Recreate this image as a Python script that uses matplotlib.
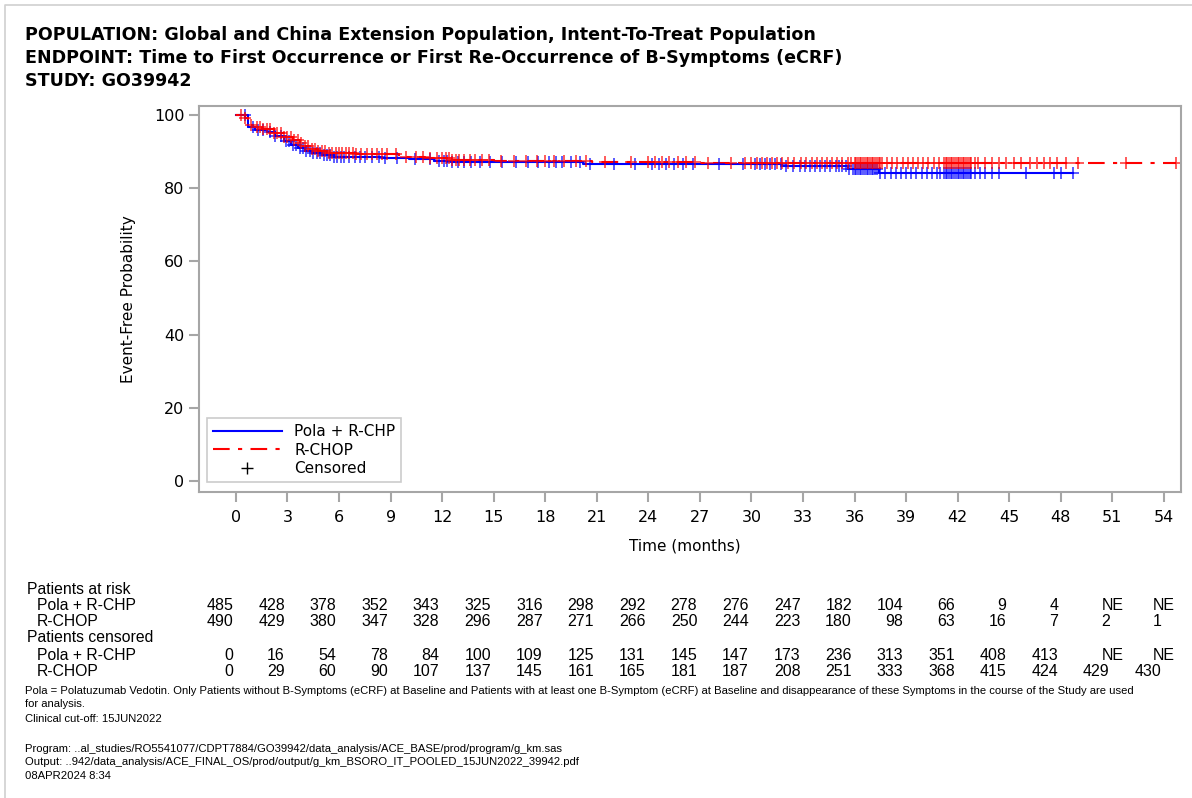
import numpy as np
import matplotlib
matplotlib.use("Agg")
from matplotlib import pyplot as plt
from matplotlib.lines import Line2D
from matplotlib import transforms

# Kaplan-Meier steps (months, % event-free)
pola_t = [0, 0.7, 1.1, 1.8, 2.3, 2.8, 3.2, 3.6, 4.0, 4.4, 5.0, 5.7, 8.5, 10.1, 11.5,
          12.5, 16.0, 20.2, 31.8, 35.6, 37.4, 48.7]
pola_s = [100, 96.7, 96.0, 95.4, 94.3, 92.8, 91.8, 91.0, 90.3, 89.6, 89.0, 88.5, 88.3,
          88.0, 87.6, 87.2, 87.1, 86.6, 86.0, 85.3, 84.1, 84.1]

rchop_t = [0, 0.5, 0.7, 1.0, 1.5, 2.2, 2.8, 3.3, 3.7, 4.0, 4.3, 4.8, 5.3, 7.0, 9.5,
           11.0, 12.5, 15.0, 17.3, 20.7, 27.0, 54.7]
rchop_s = [100, 99.2, 97.3, 96.8, 96.2, 95.2, 94.1, 93.2, 92.3, 91.5, 90.7, 90.1, 89.7,
           89.3, 88.6, 88.2, 87.7, 87.5, 87.4, 87.2, 87.0, 87.0]

# censoring times (months)
pola_cens = [0.5, 1.0, 1.3, 1.6, 2.0, 2.3, 2.6, 2.9,
             3.1, 3.3, 3.5, 3.7, 3.9, 4.1, 4.3, 4.5, 4.7, 4.9, 5.1, 5.3, 5.5, 5.7, 5.9,
             6.1, 6.3, 6.6, 6.9, 7.2, 7.5, 7.9, 8.3, 8.7,
             9.4, 10.4, 11.3, 11.8,
             12.1, 12.3, 12.6, 12.9, 13.3, 13.7, 14.2, 14.8,
             15.5, 16.3, 17.0, 17.6,
             18.2, 18.6, 19.0, 19.5, 20.0, 20.6,
             22.0, 23.2,
             24.2, 24.6, 25.0, 25.5, 26.0, 26.6,
             28.1, 29.5,
             30.2, 30.5, 30.8, 31.1, 31.4, 31.7, 32.0, 32.4, 32.8,
             33.1, 33.4, 33.7, 34.0, 34.3, 34.6, 34.9, 35.1, 35.3, 35.5, 35.7, 35.9,
             36.0, 36.1, 36.2, 36.3, 36.4, 36.5, 36.6, 36.7, 36.8, 36.9, 37.0, 37.1,
             37.2, 37.3, 37.5, 37.8, 38.1, 38.4, 38.7,
             39.0, 39.3, 39.6, 39.9, 40.2, 40.5, 40.8, 41.0, 41.2, 41.3, 41.4, 41.5,
             41.6, 41.7, 41.8, 41.9,
             42.0, 42.1, 42.2, 42.3, 42.4, 42.5, 42.6, 42.7, 42.8, 43.0, 43.3, 43.6,
             44.0, 44.4,
             46.0, 47.6, 48.0, 48.7]

rchop_cens = [0.3, 0.5, 0.9, 1.2, 1.4, 1.6, 1.8, 2.0, 2.2, 2.4, 2.6, 2.8,
              3.0, 3.2, 3.4, 3.6, 3.8, 4.0, 4.2, 4.4, 4.6, 4.8, 5.0, 5.2, 5.4, 5.6, 5.8,
              6.0, 6.2, 6.4, 6.6, 6.8, 7.0, 7.3, 7.6, 7.9, 8.2, 8.5, 8.8,
              9.3, 9.9, 10.5, 10.9, 11.3, 11.7,
              12.0, 12.2, 12.4, 12.6, 12.8, 13.0, 13.3, 13.6, 13.9, 14.3, 14.7,
              15.4, 16.2, 16.9, 17.5,
              18.0, 18.5, 19.1, 19.8, 20.4,
              21.5, 23.0,
              24.0, 24.4, 24.8, 25.2, 25.7, 26.2, 26.7,
              27.5, 28.8, 29.6,
              30.0, 30.3, 30.6, 30.9, 31.2, 31.5, 31.8, 32.1, 32.5, 32.9,
              33.2, 33.5, 33.8, 34.1, 34.4, 34.7, 35.0, 35.3, 35.6, 35.8,
              36.0, 36.1, 36.2, 36.3, 36.4, 36.5, 36.6, 36.7, 36.8, 36.9, 37.0, 37.1,
              37.2, 37.3, 37.4, 37.5, 37.6, 37.9, 38.2, 38.5, 38.8,
              39.1, 39.4, 39.7, 40.0, 40.3, 40.6, 40.9, 41.2, 41.3, 41.4, 41.5, 41.6,
              41.7, 41.8, 41.9,
              42.0, 42.1, 42.2, 42.3, 42.4, 42.5, 42.6, 42.7, 42.8, 43.0, 43.2, 43.6,
              44.0, 44.4, 44.8,
              45.3, 45.7, 46.2, 46.6, 47.0, 47.4, 47.8,
              48.3, 49.0, 51.8, 54.7]

# risk table
table_times = [0, 3, 6, 9, 12, 15, 18, 21, 24, 27, 30, 33, 36, 39, 42, 45, 48, 51, 54]
risk_pola = ["485", "428", "378", "352", "343", "325", "316", "298", "292", "278", "276",
             "247", "182", "104", "66", "9", "4", "NE", "NE"]
risk_rchop = ["490", "429", "380", "347", "328", "296", "287", "271", "266", "250", "244",
              "223", "180", "98", "63", "16", "7", "2", "1"]
cens_pola = ["0", "16", "54", "78", "84", "100", "109", "125", "131", "145", "147",
             "173", "236", "313", "351", "408", "413", "NE", "NE"]
cens_rchop = ["0", "29", "60", "90", "107", "137", "145", "161", "165", "181", "187",
              "208", "251", "333", "368", "415", "424", "429", "430"]

title_lines = ["POPULATION: Global and China Extension Population, Intent-To-Treat Population",
               "ENDPOINT: Time to First Occurrence or First Re-Occurrence of B-Symptoms (eCRF)",
               "STUDY: GO39942"]
foot_lines = [
    (691, "Pola = Polatuzumab Vedotin. Only Patients without B-Symptoms (eCRF) at Baseline and "
          "Patients with at least one B-Symptom (eCRF) at Baseline and disappearance of these "
          "Symptoms in the course of the Study are used"),
    (704, "for analysis."),
    (719, "Clinical cut-off: 15JUN2022"),
    (749, "Program: ..al_studies/RO5541077/CDPT7884/GO39942/data_analysis/ACE_BASE/prod/program/g_km.sas"),
    (762, "Output: ..942/data_analysis/ACE_FINAL_OS/prod/output/g_km_BSORO_IT_POOLED_15JUN2022_39942.pdf"),
    (776, "08APR2024 8:34"),
]

W, H = 1192, 798
BLUE = "#0000ff"
RED = "#ff0000"
GREY = "#a6a6a6"
FOOT = ["Liberation Sans", "DejaVu Sans"]
TBL = ["Liberation Sans", "DejaVu Sans"]


def px(x, y):
    return x / W, 1 - y / H


def step_value(t, s, x):
    idx = np.searchsorted(np.asarray(t), x, side="right") - 1
    return np.asarray(s)[idx]


fig = plt.figure(figsize=(W / 100, H / 100), dpi=100)
ax = fig.add_axes([199 / W, 1 - 492 / H, (1181 - 199) / W, (492 - 106) / H])

ax.step(pola_t, pola_s, where="post", color=BLUE, lw=1.5)
ax.step(rchop_t, rchop_s, where="post", color=RED, lw=1.5, ls=(0, (8, 4, 2, 4)))
ax.plot(pola_cens, step_value(pola_t, pola_s, pola_cens), ls="none", marker="+",
        ms=8, mew=1.2, color=BLUE, alpha=0.75)
ax.plot(rchop_cens, step_value(rchop_t, rchop_s, rchop_cens), ls="none", marker="+",
        ms=8, mew=1.2, color=RED, alpha=0.75)

ax.set_xlim(-2.15, 55.0)
ax.set_ylim(-3.0, 102.5)
ax.set_xticks(table_times)
ax.set_yticks([0, 20, 40, 60, 80, 100])
for s in ax.spines.values():
    s.set_color(GREY)
    s.set_linewidth(1.5)
ax.tick_params(colors=GREY, labelcolor="black", length=7, width=1.5, labelsize=11.5)
ax.tick_params(axis="x", pad=6)
ax.set_xlabel("Time (months)", fontsize=11)
ax.xaxis.set_label_coords(0.495, -0.12)
ax.set_ylabel("Event-Free Probability", fontsize=11)
ax.yaxis.set_label_coords(-0.064, 0.5)

handles = [Line2D([], [], color=BLUE, lw=1.5),
           Line2D([], [], color=RED, lw=1.5, ls=(0, (8, 4, 2, 4))),
           Line2D([], [], color="black", ls="none", marker="+", ms=9, mew=1)]
leg = ax.legend(handles, ["Pola + R-CHP", "R-CHOP", "Censored"], loc="lower left",
                bbox_to_anchor=(8 / 982, 10 / 386), borderaxespad=0, fontsize=11,
                handlelength=4.5, labelspacing=0.22, fancybox=False, framealpha=1,
                borderpad=0.4, handletextpad=0.8)
leg.get_frame().set_edgecolor("#cccccc")
leg.get_frame().set_linewidth(1.2)

for i, line in enumerate(title_lines):
    fig.text(*px(25, 35 + 23 * i), line, fontsize=12.6, fontweight="bold", va="center")

# risk table
trans = transforms.blended_transform_factory(ax.transData, fig.transFigure)
fig.text(*px(27, 589), "Patients at risk", fontsize=11.3, family=TBL, va="center")
fig.text(*px(37, 606), "Pola + R-CHP", fontsize=11.3, family=TBL, va="center")
fig.text(*px(37, 622), "R-CHOP", fontsize=11.3, family=TBL, va="center")
fig.text(*px(27, 638), "Patients censored", fontsize=11.3, family=TBL, va="center")
fig.text(*px(37, 655), "Pola + R-CHP", fontsize=11.3, family=TBL, va="center")
fig.text(*px(37, 671), "R-CHOP", fontsize=11.3, family=TBL, va="center")
for row_y, vals in [(606, risk_pola), (622, risk_rchop), (655, cens_pola), (671, cens_rchop)]:
    for t, v in zip(table_times, vals):
        shift = 0.65 if v == "NE" else -0.15
        ax.text(t + shift, 1 - row_y / H, v, transform=trans, fontsize=11.5, family=TBL,
                ha="right", va="center")

for y, line in foot_lines:
    fig.text(*px(25, y), line, fontsize=8.1, family=FOOT, va="center")

# page frame
fig.add_artist(Line2D([5 / W, 5 / W, 1], [0, 1 - 5 / H, 1 - 5 / H],
                      transform=fig.transFigure, color="#d0d0d0", lw=1.2))

fig.savefig("out.png", dpi=100)
